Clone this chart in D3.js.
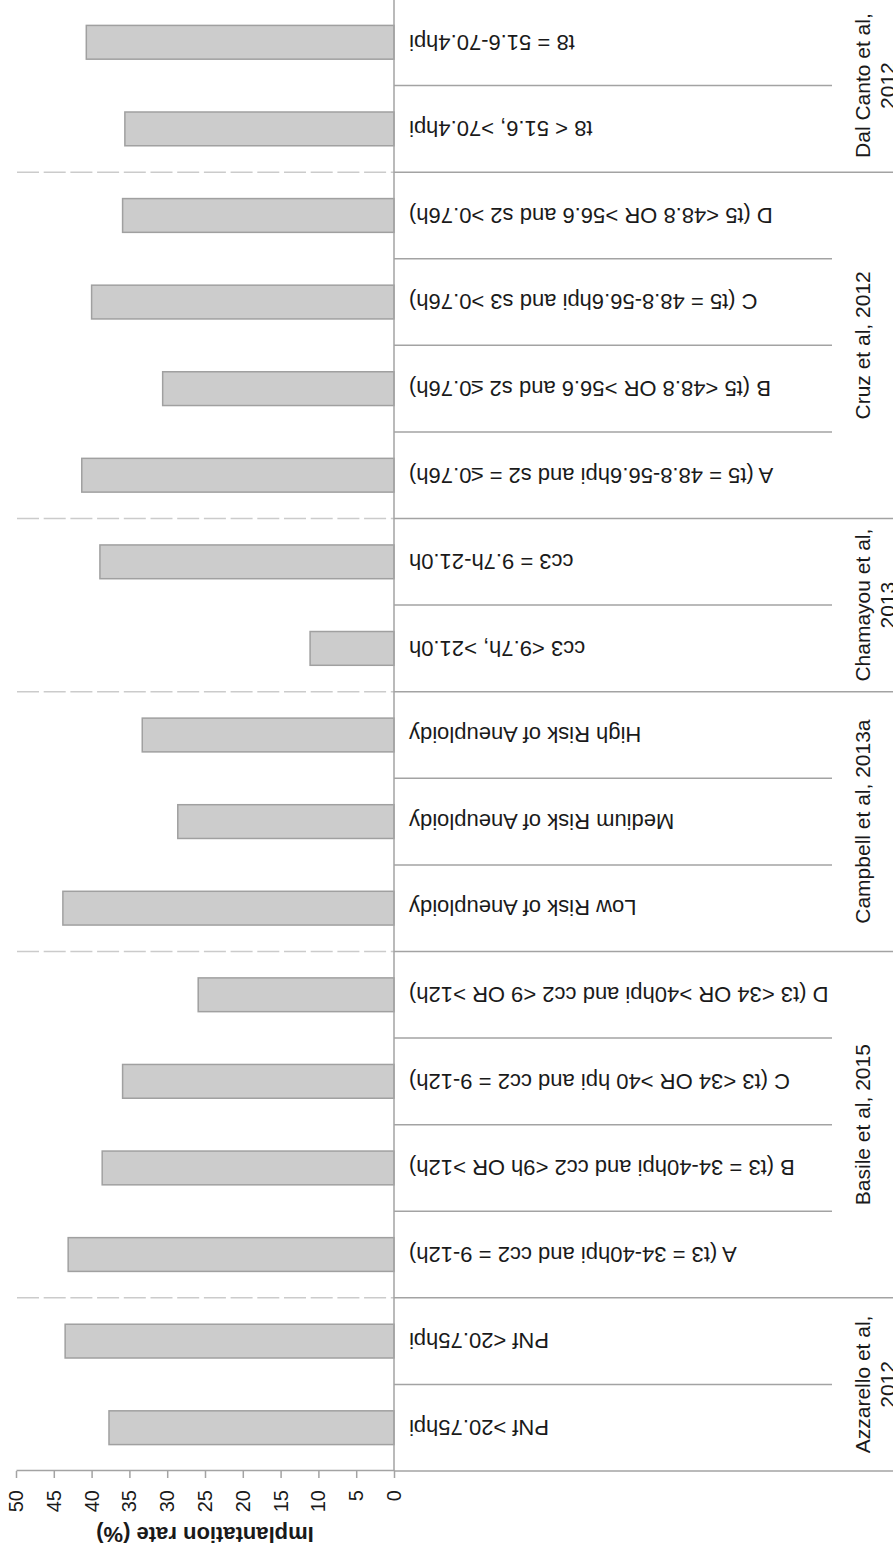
<!DOCTYPE html>
<html>
<head>
<meta charset="utf-8">
<script src="https://cdn.jsdelivr.net/npm/d3@7"></script>
<style>
  html, body { margin: 0; padding: 0; background: #fff; }
  svg { display: block; font-family: "Liberation Sans", Arial, sans-serif; }
</style>
</head>
<body>
<svg id="chart" width="893" height="1554"></svg>
<script>
// Implantation rate per embryo-selection category, grouped by study
const categories = [
  "PNf >20.75hpi", "PNf <20.75hpi",
  "A (t3 = 34-40hpi and cc2 = 9-12h)", "B (t3 = 34-40hpi and cc2 <9h OR >12h)",
  "C (t3 <34 OR >40 hpi and cc2 = 9-12h)", "D (t3 <34 OR >40hpi and cc2 <9 OR >12h)",
  "Low Risk of Aneuploidy", "Medium Risk of Aneuploidy", "High Risk of Aneuploidy",
  "cc3 <9.7h, >21.0h", "cc3 = 9.7h-21.0h",
  "A (t5 = 48.8-56.6hpi and s2 = \u22640.76h)", "B (t5 <48.8 OR >56.6 and s2 \u22640.76h)",
  "C (t5 = 48.8-56.6hpi and s3 >0.76h)", "D (t5 <48.8 OR >56.6 and s2 >0.76h)",
  "t8 < 51.6, >70.4hpi", "t8 = 51.6-70.4hpi"
];
const categoryStudy = [0, 0, 1, 1, 1, 1, 2, 2, 2, 3, 3, 4, 4, 4, 4, 5, 5];
const implantationRate = [37.7, 43.5, 43.1, 38.6, 35.9, 25.9, 43.8, 28.6, 33.3, 11.1, 38.9, 41.3, 30.6, 40.0, 35.9, 35.6, 40.7];
const studyLabels = [
  ["Azzarello et al,", "2012"],
  ["Basile et al, 2015"],
  ["Campbell et al, 2013a"],
  ["Chamayou et al,", "2013"],
  ["Cruz et al, 2012"],
  ["Dal Canto et al,", "2012"]
];
const yTicks = [0, 5, 10, 15, 20, 25, 30, 35, 40, 45, 50];
const yTitle = "Implantation rate (%)";

const W = 1554, H = 893;          // drawing frame before the page rotation
const axisColor = "#a3a3a3";
const textColor = "#1a1a1a";

const svg = d3.select("#chart");
// The column chart is laid out upright and then turned a quarter turn counter-clockwise
const g = svg.append("g").attr("transform", `translate(0,${W}) rotate(-90)`);

const xCell = d3.scaleBand().domain(d3.range(categories.length)).range([83, 1555]).padding(0);
const xBar = xCell.copy().paddingInner(0.61).paddingOuter(0.305);
const y = d3.scaleLinear().domain([0, 50]).range([394, 16]);
const step = xCell.step();

// Dashed separators between studies inside the plot area
const groupEdges = [];
for (let i = 1; i < categories.length; i++) {
  if (categoryStudy[i] !== categoryStudy[i - 1]) groupEdges.push(xCell(i));
}
g.selectAll("line.dash").data(groupEdges).join("line")
  .attr("class", "dash")
  .attr("x1", d => d).attr("x2", d => d)
  .attr("y1", y(50) + 1).attr("y2", y(0))
  .attr("stroke", "#cbcbcb").attr("stroke-width", 1.6)
  .attr("stroke-dasharray", "22,4.7");

// Bars
g.selectAll("rect.bar").data(implantationRate).join("rect")
  .attr("class", "bar")
  .attr("x", (d, i) => xBar(i))
  .attr("width", xBar.bandwidth())
  .attr("y", d => y(d))
  .attr("height", d => y(0) - y(d))
  .attr("fill", "#cccccc")
  .attr("stroke", "#a0a0a0")
  .attr("stroke-width", 1.5);

// Category separators below the axis; study boundaries run to the edge
const allEdges = d3.range(categories.length + 1).map(i => ({
  pos: i < categories.length ? xCell(i) : xCell(categories.length - 1) + step,
  full: i === 0 || i === categories.length || categoryStudy[i] !== categoryStudy[i - 1]
}));
g.selectAll("line.sep").data(allEdges).join("line")
  .attr("class", "sep")
  .attr("x1", d => d.pos).attr("x2", d => d.pos)
  .attr("y1", y(0)).attr("y2", d => d.full ? H : 832)
  .attr("stroke", axisColor).attr("stroke-width", 1.5);

// Category axis line
g.append("line")
  .attr("x1", 83).attr("x2", 1555)
  .attr("y1", y(0)).attr("y2", y(0))
  .attr("stroke", axisColor).attr("stroke-width", 1.5);

// Value axis
const yAxis = g.append("g")
  .attr("transform", "translate(83,0)")
  .call(d3.axisLeft(y).tickValues(yTicks).tickFormat(d3.format("d")).tickSize(7).tickSizeOuter(0).tickPadding(12));
yAxis.select(".domain").attr("stroke", axisColor).attr("stroke-width", 1.5);
yAxis.selectAll(".tick line").attr("stroke", axisColor).attr("stroke-width", 1.5);
yAxis.selectAll(".tick text")
  .attr("fill", textColor)
  .style("font-size", "20px")
  .style("font-family", "'Liberation Sans', Arial, sans-serif");

// Value axis title
g.append("text")
  .attr("transform", `translate(27,${(y(0) + y(50)) / 2}) rotate(-90)`)
  .attr("text-anchor", "middle")
  .attr("fill", textColor)
  .style("font-size", "22px")
  .style("font-weight", "bold")
  .text(yTitle);

// Category labels, written downward from the axis
g.selectAll("text.cat").data(categories).join("text")
  .attr("class", "cat")
  .attr("transform", (d, i) => `translate(${xCell(i) + step / 2},409) rotate(-90)`)
  .attr("text-anchor", "end")
  .attr("dy", "0.35em")
  .attr("fill", textColor)
  .style("font-size", "22px")
  .text(d => d);

// Study labels centred under each group
const studyCenters = studyLabels.map((lines, s) => {
  const idx = d3.range(categories.length).filter(i => categoryStudy[i] === s);
  return (xCell(idx[0]) + xCell(idx[idx.length - 1]) + step) / 2;
});
const st = g.selectAll("text.study").data(studyLabels).join("text")
  .attr("class", "study")
  .attr("text-anchor", "middle")
  .attr("fill", textColor)
  .style("font-size", "21px");
st.selectAll("tspan").data((d, s) => d.map(t => ({ t, s }))).join("tspan")
  .attr("x", d => studyCenters[d.s])
  .attr("y", (d, k) => 870 + k * 25)
  .text(d => d.t);
</script>
</body>
</html>
